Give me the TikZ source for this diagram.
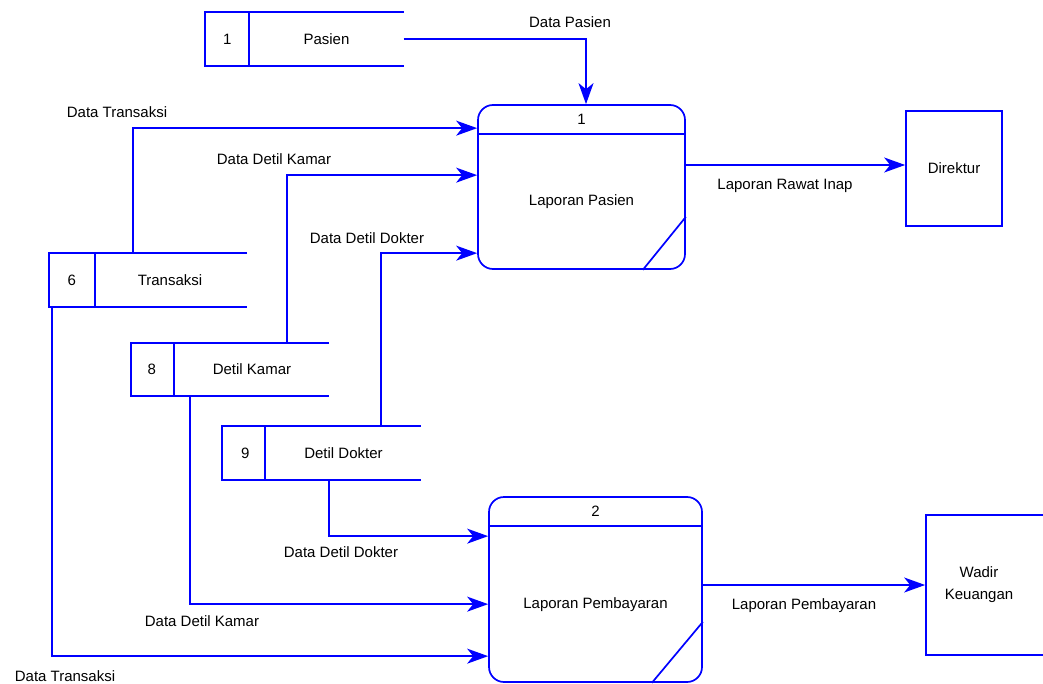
\documentclass[tikz,border=0pt]{standalone}
\usepackage{fontspec}
\setmainfont{Liberation Sans}
\usetikzlibrary{arrows.meta,positioning}

\tikzset{
  dfd/.style={blue, line width=1.7pt},
  flow/.style={dfd, -{Stealth[length=21pt,width=15pt,inset=6pt]}},
  storebox/.style={minimum width=198pt, minimum height=53pt, inner sep=0pt},
  procbox/.style={dfd, draw, rounded corners=15pt, inner sep=0pt},
  entbox/.style={dfd, draw, inner sep=0pt},
  lbl/.style={font=\fontsize{15}{22}\selectfont, text=black, inner sep=1pt}
}

\begin{document}
\begin{tikzpicture}[x=1pt, y=-1pt]
    \useasboundingbox (0,0) rectangle (1043,684);

    % Data stores
    \node[storebox] (s1) at (304.5, 39) {};
    \node[storebox] (s6) at (148, 280) {};
    \node[storebox] (s8) at (230, 369.5) {};
    \node[storebox] (s9) at (321.5, 453) {};
    \draw[dfd] (s1.north east) -- (s1.north west) -- (s1.south west) -- (s1.south east);
    \draw[dfd] ([xshift=44pt]s1.north west) -- ([xshift=44pt]s1.south west);
    \draw[dfd] (s6.north east) -- (s6.north west) -- (s6.south west) -- (s6.south east);
    \draw[dfd] ([xshift=46pt]s6.north west) -- ([xshift=46pt]s6.south west);
    \draw[dfd] (s8.north east) -- (s8.north west) -- (s8.south west) -- (s8.south east);
    \draw[dfd] ([xshift=43pt]s8.north west) -- ([xshift=43pt]s8.south west);
    \draw[dfd] (s9.north east) -- (s9.north west) -- (s9.south west) -- (s9.south east);
    \draw[dfd] ([xshift=43pt]s9.north west) -- ([xshift=43pt]s9.south west);
    \node[lbl] at ([xshift=22pt]s1.west) {1};
    \node[lbl] at ([xshift=22pt]s1.center) {Pasien};
    \node[lbl] at ([xshift=23pt]s6.west) {6};
    \node[lbl] at ([xshift=22pt]s6.center) {Transaksi};
    \node[lbl] at ([xshift=21pt]s8.west) {8};
    \node[lbl] at ([xshift=22pt]s8.center) {Detil Kamar};
    \node[lbl] at ([xshift=23pt]s9.west) {9};
    \node[lbl] at ([xshift=22pt]s9.center) {Detil Dokter};

    % Processes
    \node[procbox, minimum width=207pt, minimum height=164pt] (p1) at (581.5, 187) {};
    \draw[dfd] ([yshift=-30pt]p1.north west) -- ([yshift=-30pt]p1.north east);
    \draw[dfd] ([xshift=-43pt]p1.south east) -- ([yshift=53pt]p1.south east);
    \node[lbl] at ([yshift=-15pt]p1.north) {1};
    \node[lbl] at ([yshift=-15pt]p1.center) {Laporan Pasien};

    \node[procbox, minimum width=213pt, minimum height=185pt] (p2) at (595.5, 589.5) {};
    \draw[dfd] ([yshift=-30pt]p2.north west) -- ([yshift=-30pt]p2.north east);
    \draw[dfd] ([xshift=-51pt]p2.south east) -- ([yshift=61pt]p2.south east);
    \node[lbl] at ([yshift=-15pt]p2.north) {2};
    \node[lbl] at ([yshift=-15pt]p2.center) {Laporan Pembayaran};

    % External entities
    \node[entbox, minimum width=96pt, minimum height=115pt, lbl, text=black] (dir) at (954, 168.5) {Direktur};
    \node[entbox, minimum width=120pt, minimum height=140pt, lbl, text=black, align=center] (wadir) at (986, 585) {Wadir\hspace*{14pt}\\Keuangan\hspace*{14pt}};

    % Flows into Laporan Pasien
    \draw[flow] (s1.east) -| ([xshift=4.5pt]p1.north);
    \draw[flow] ([xshift=-15pt]s6.north) |- ([yshift=-24pt]p1.north west);
    \draw[flow] ([xshift=57pt]s8.north) |- ([yshift=-71pt]p1.north west);
    \draw[flow] ([xshift=59.5pt]s9.north) |- ([yshift=-149pt]p1.north west);

    % Flows into Laporan Pembayaran
    \draw[flow] ([xshift=7.5pt]s9.south) |- ([yshift=-40pt]p2.north west);
    \draw[flow] ([xshift=-40pt]s8.south) |- ([yshift=-108pt]p2.north west);
    \draw[flow] ([xshift=3pt]s6.south west) |- ([yshift=-160pt]p2.north west);

    % Flows to entities
    \coordinate (o1) at ([yshift=22pt]p1.east);
    \draw[flow] (o1) -- (o1 -| dir.west);
    \coordinate (o2) at ([yshift=4.5pt]p2.east);
    \draw[flow] (o2) -- (o2 -| wadir.west);

    % Flow labels
    \node[lbl] at (570, 22) {Data Pasien};
    \node[lbl] at (117, 112) {Data Transaksi};
    \node[lbl] at (274, 159) {Data Detil Kamar};
    \node[lbl] at (367, 238) {Data Detil Dokter};
    \node[lbl] at (785, 186) {Laporan Rawat Inap};
    \node[lbl] at (341, 552) {Data Detil Dokter};
    \node[lbl] at (202, 621) {Data Detil Kamar};
    \node[lbl] at (65, 676) {Data Transaksi};
    \node[lbl] at (804, 606) {Laporan Pembayaran};
\end{tikzpicture}
\end{document}
